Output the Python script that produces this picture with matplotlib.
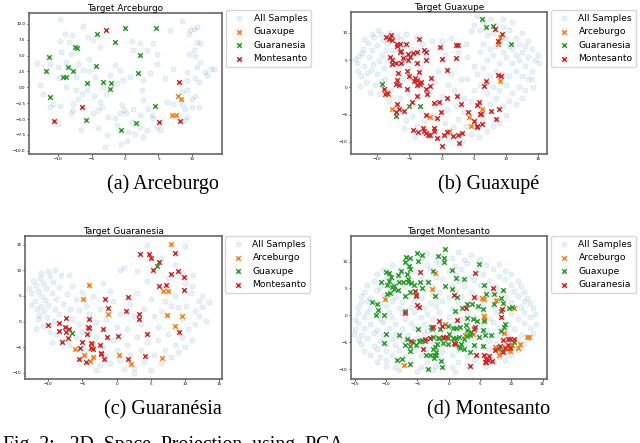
import numpy as np
import matplotlib.pyplot as plt

plt.rcParams['font.family'] = 'DejaVu Sans'

W, H = 640, 443

# ---------------- data: 2D PCA coordinates ----------------

# (a) Target Arceburgo
all_a = [(-9.75, 10.7), (-6.25, 9.6), (-8.9, 8.4), (-7.85, 8.3), (-5.5, 7.9), (-9.75, 7.3),
         (-8.35, 7.1), (-4.75, 7.5), (1.0, 7.3), (2.25, 6.9), (-9.6, 5.5), (-8.0, 5.3),
         (-5.45, 4.5), (-3.7, 6.3), (-13.1, 3.8), (-11.25, 3.7), (-10.0, 3.2), (-8.75, 4.0),
         (-7.1, 3.7), (-6.35, 2.7), (-5.35, 2.5), (-7.25, 1.6), (-9.85, 1.5), (-12.75, 0.3),
         (-12.25, -1.0), (-11.25, -3.1), (-10.75, -2.7), (-9.65, -3.0), (-8.0, -4.1),
         (-7.75, -2.6), (-7.1, -1.8), (-7.35, -0.5), (-8.75, 0.05), (-6.5, -1.0), (-5.65, -0.5),
         (-4.6, -1.4), (-3.75, -2.3), (-3.5, -3.1), (-2.85, -1.0), (-4.0, -3.6), (-2.5, -4.7),
         (-1.5, -4.9), (-0.75, -4.1), (-0.5, -2.8), (-0.15, -3.6), (0.15, -4.1), (1.15, -3.4),
         (2.25, -4.4), (2.75, -2.0), (3.5, -3.4), (4.0, -4.4), (4.25, -4.9), (1.0, -5.5),
         (0.65, -7.0), (0.25, -8.4), (-0.65, -8.9), (-3.0, -9.4), (-2.75, -7.5), (-4.1, -6.4),
         (-6.6, -6.7), (-1.25, -6.0), (1.5, -7.3), (2.75, -7.8), (2.75, 1.2), (2.5, -0.5),
         (3.75, 2.2), (4.75, 3.6), (6.0, 1.5), (6.25, -2.3), (7.25, -2.6), (8.5, -2.6),
         (9.0, -3.4), (10.0, -1.9), (10.5, -1.3), (9.25, -0.5), (8.5, -0.7), (9.25, 1.1),
         (10.5, 1.4), (11.0, 0.8), (9.25, 2.4), (10.75, 3.2), (12.0, 2.4), (12.25, 1.9),
         (13.25, 2.9), (12.85, 2.9), (11.25, 4.0), (10.5, 5.0), (9.5, 5.3), (10.25, 5.8),
         (11.25, 6.9), (10.75, 7.1), (10.75, 9.5), (10.25, 9.2), (9.5, 8.4), (8.5, 10.5),
         (6.75, 9.1), (9.75, 9.0), (7.25, 2.9), (4.25, 6.9), (4.75, 5.3), (3.25, 5.8),
         (1.25, 5.8), (-1.5, 3.5), (-0.75, 2.7), (-2.25, 1.9), (-1.25, 0.6), (-0.25, 1.1),
         (0.75, 1.6), (-4.5, 1.6), (-3.25, 0.05), (-4.75, -4.1), (-7.75, -3.6), (-10.0, -5.8),
         (5.25, -6.8), (4.75, -6.2), (2.25, -6.2), (3.25, -6.8), (9.25, -4.7), (9.0, -5.2),
         (10.0, -3.1), (11.0, -3.1)]
a_guaxupe = [(7.85, -1.4), (8.35, -1.9), (7.1, -4.4), (7.65, -4.3)]
a_guaranesia = [(-4.25, 8.4), (0.0, 9.3), (4.6, 9.3), (-1.5, 7.1), (-7.5, 6.4), (-7.15, 6.2),
                (-11.4, 4.7), (2.25, 5.1), (-8.5, 3.25), (-4.3, 3.35), (-11.75, 2.55), (-7.7, 2.6),
                (-9.3, 1.7), (-8.8, 1.7), (1.95, 2.2), (-5.65, 0.7), (-3.25, 0.85), (-2.05, 0.75),
                (-2.2, -0.25), (-11.25, -1.6), (4.5, -3.0), (-5.9, -5.2), (1.65, -5.55), (-0.65, -6.75)]
a_montesanto = [(-2.85, 9.0), (8.0, 0.85), (-6.4, -3.15), (-10.65, -5.3), (5.1, -5.5), (8.2, -5.25)]

# (b) Target Guaxupe
all_b = [(-13.2, 4.5), (-13, 3), (-12.8, 5.8), (-12.5, 2), (-12.3, 7), (-12, 4), (-11.8, 1),
         (-11.5, 8.2), (-11.3, 5.5), (-11, 3.2), (-10.8, 6.8), (-10.5, 9.3), (-10.3, 0.5),
         (-10, 2.5), (-10, 7.8), (-9.8, 4.8), (-9.5, 9.8), (-9.3, 6), (-9, 3.5), (-8.8, 1.5),
         (-8.5, 8.2), (-8.3, 5), (-8, 10), (-7.8, -0.5), (-7.5, 6.8), (-7.3, 2.8), (-7, 9.3),
         (-6.8, 3.8), (-6.5, -2), (-6.3, 8.8), (-6, 1.5), (-5.8, 5.8), (-5.5, 9.8), (-5.3, -1),
         (-5, 3.5), (-4.8, 7), (-4.5, -3), (-4.3, 4.5), (-4, 9.2), (-3.8, 0.5), (-3.5, -1.5),
         (-3.3, 3.8), (-3, 8), (-12.7, 0.2), (-11.2, -1), (-9.7, -1.2), (-8.2, -2.5), (-13.5, 5.2),
         (-12.1, 8.9), (-10.9, 9.8), (-9.9, 10.5), (-9.1, 8.6), (-8.7, 6.9), (-7.9, 4.1),
         (-11.6, 2.6), (-10.6, 4.2), (-12.4, 6.3), (-9.4, 1.2), (-7.2, -3.5), (-6.2, -4.5),
         (-5.6, -6), (-4.6, -5.2), (-3.9, -7), (-2.8, -6), (-2.2, -8), (-1.5, -5), (-0.8, -7.8),
         (-0.2, -9.2), (0.5, -6.5), (1.2, -9.5), (1.8, -7.2), (2.5, -5.8), (3.2, -9.8), (3.8, -7),
         (4.5, -8.5), (5.2, -6), (5.8, -9), (-5.8, -7.5), (-4.2, -9), (-3.2, -4.2), (-1, -3.5),
         (0.8, -4.2), (2.2, -3.5), (3.5, -4.5), (-2, -1), (-1, 1), (0, -1.5), (1, 0.5), (2, -0.5),
         (-0.5, 3), (1.5, 2.5), (3, 1.5), (-2.5, 5.5), (0.5, 6), (2.5, 6.5), (-1.5, 8.5), (0, 8.5),
         (1.5, 9), (3.8, 8), (4.5, 10.3), (5, 11.5), (5.5, 13), (6, 10.5), (6.5, 12), (7, 9.5),
         (7.5, 12.5), (8, 10), (8.5, 11.5), (9, 8), (9.5, 11), (10, 9), (10.5, 10.5), (11, 7),
         (11.5, 9), (12, 8), (12.5, 6.5), (13, 7.5), (13.5, 5.5), (14, 7), (14.5, 5), (15.2, 4.5),
         (14, 3), (13, 4), (12, 5), (11, 4.5), (10, 5.5), (9, 4.5), (8, 6), (7, 5), (6, 6.5),
         (5, 4), (4, 5.5), (5.5, 2.5), (6.5, 3.5), (7.5, 2), (8.5, 3), (9.5, 2.5), (10.5, 2),
         (11.5, 3), (12.5, 2), (13.5, 1.5), (14.2, 0), (13, -0.5), (12, 0), (11, -1), (10, 0.5),
         (9, -0.5), (8, 0), (7, -1), (6, 0.5), (5, -0.5), (4, 1.5), (12.5, -2), (11.5, -3),
         (10.5, -2.5), (9.5, -3.5), (8.5, -2), (7.5, -3), (6.5, -4.5), (5.5, -3.5), (4.5, -2.5),
         (3.5, -2), (10, -5), (9, -6.5), (8, -7), (7, -8), (6.5, -6), (11.5, 6), (10.5, 7.5),
         (9.5, 6.5), (8.5, 7.5), (7.5, 7), (6.5, 8), (12.5, 10), (11, 12), (9.5, 12.5),
         (13.5, 8.5), (15, 6), (14, 1.5)]
b_arceburgo = [(9.1, 9.2), (8.85, 8.0), (9.1, 1.2), (-8.3, -1.15), (-7.7, -3.95), (-1.75, -5.4),
               (4.3, -5.5), (4.6, -7.05), (6.35, -3.95), (1.2, -8.0)]
b_guaranesia = [(6.3, 12.6), (6.9, 11.1), (8.0, 11.2), (10.8, 7.85), (-9.2, 0.7), (-5.1, -3.4),
                (-3.4, -3.4), (-7.15, -5.2)]
b_montesanto = [(-8.65, 9.2), (-7.8, 9.5), (-7.65, 8.75), (-8.2, 8.8), (-3.5, 8.9), (-7.0, 8.0),
                (-6.4, 8.0), (-5.5, 7.85), (-6.95, 7.5), (-6.35, 6.6), (-6.45, 6.4), (-5.3, 6.2),
                (-3.9, 6.5), (-4.5, 6.3), (-2.8, 6.9), (-2.5, 6.45), (-0.25, 7.4), (2.3, 7.7),
                (2.6, 7.8), (-8.1, 5.6), (-7.7, 5.0), (-6.05, 5.3), (-4.85, 5.5), (-5.2, 5.1),
                (-2.4, 5.0), (0.1, 5.2), (2.3, 5.4), (-7.75, 4.25), (-7.15, 4.4), (-6.35, 4.4),
                (-3.85, 4.5), (0.8, 3.15), (-5.45, 3.0), (-6.8, 2.6), (-3.5, 2.75), (-5.1, 2.05),
                (-4.2, 1.75), (-3.85, 1.3), (-4.35, 1.15), (-6.9, 1.35), (-3.2, 1.05), (-1.6, 1.8),
                (-7.05, 0.55), (-6.6, 0.35), (-3.85, 0.35), (-3.3, 0.55), (-1.75, 0.25), (-5.35, -0.25),
                (-2.4, -0.35), (-9.0, -0.35), (-8.85, -1.15), (-8.45, -0.95), (-2.2, -1.3), (-3.85, -1.6),
                (-4.65, -2.75), (-6.9, -3.05), (-6.6, -3.9), (-1.15, -2.8), (-0.4, -2.75), (0.85, -2.0),
                (2.45, -1.65), (3.05, -3.1), (5.8, -2.6), (5.45, -3.3), (6.6, 0.25), (6.95, 1.2),
                (8.75, 2.2), (9.25, 2.05), (8.3, 10.6), (9.4, 9.85), (8.75, 8.5), (-7.1, -4.5),
                (-5.8, -4.4), (-2.45, -5.0), (-0.65, -5.65), (-0.15, -4.5), (4.15, -4.6), (5.0, -6.1),
                (5.55, -7.0), (5.55, -7.2), (6.35, -6.75), (5.9, -4.8), (6.2, -4.8), (7.7, -4.25),
                (8.45, -5.8), (8.95, -4.0), (-4.4, -7.85), (-3.75, -8.15), (-2.95, -7.35), (-2.75, -7.95),
                (-2.45, -8.4), (-2.05, -8.7), (-1.75, -8.7), (-1.15, -7.5), (-1.15, -7.95), (-0.75, -9.25),
                (0.3, -8.7), (0.9, -8.15), (1.85, -8.9), (2.6, -8.8), (3.25, -8.4), (2.7, -10.1),
                (0.1, -10.65)]

# (c) Target Guaranesia
all_c = [(-12.2, 8), (-11.8, 7.2), (-11.5, 6), (-11.2, 8.5), (-11, 5), (-10.8, 7.5), (-10.5, 4.2),
         (-10.3, 6.5), (-10, 3.3), (-9.8, 8.8), (-9.5, 5.5), (-9.3, 7.8), (-9, 2.5), (-8.8, 4.5),
         (-8.5, 6.8), (-8.2, 9), (-12, 4), (-11.6, 2.5), (-11, 3), (-10.6, 2), (-12.5, 5.5),
         (-12.8, 6.5), (-11.4, 1.2), (-10.2, 0.8), (-9.2, 0.2), (-8.5, 1.5), (-7.8, 3.5), (-7.3, 5.3),
         (-6.8, 2.5), (-7, 9), (-6.5, 7), (-6, 4.5), (-5.5, 2.2), (-11.8, -1.5), (-10.8, -0.8),
         (-9.8, -2), (-8.8, -2.5), (-9.5, -4), (-8, -3.8), (-7, -4.5), (-6, -3), (-5, -2),
         (-4.5, -5.5), (-3.5, -7), (-3, -3), (-2.5, -8.5), (-2, -5), (-1.5, -6.5), (-1, -8),
         (-0.5, -3.5), (0, -5.5), (0.5, -7.5), (1, -9.2), (1.5, -4.5), (2, -6.5), (2.5, -9),
         (3, -3), (3.5, -5.5), (4, -7.8), (4.5, -4), (5, -9.5), (5.5, -6.5), (6, -3.5), (6.5, -8),
         (7, -5.5), (7.5, -2.5), (8, -7), (8.5, -4.5), (9, -6), (9.5, -3), (10, -5), (10.5, -1.5),
         (11, -3.5), (11.5, -0.5), (12, 1), (12.5, 2.8), (13, 0.2), (13.5, 3.8), (12, 4), (11.5, 2),
         (10.8, 5.5), (11.2, 9), (10, 7.5), (10.2, 3), (9.5, 0.5), (9, 2.8), (8.5, 5), (8, 3),
         (7.5, 8.5), (7, 4), (6.5, 2), (6, -1), (5.5, 1), (5, 4.5), (4.5, 8), (4, 2.5), (3.5, -0.5),
         (3, 5.5), (2.5, 1), (2, 3.5), (1.5, -1.5), (1, 10.5), (0.5, 1.5), (0, -1), (-0.5, 4),
         (-1, 6), (-1.5, 0.5), (-2, 7.5), (-2.5, 2.5), (-3, 0), (-3.5, 5), (-4, 1.5), (-4.5, 3),
         (-5, 5.8), (-5.5, -0.5), (-6.5, 0.5), (-7.5, -1), (4.4, 14.9), (10, 14.8), (6.5, 12.5),
         (8.5, 11), (9.5, 9.5), (12.5, 5), (11, 7), (3, 9.8), (-11.5, 0.5), (-12.5, 3.2),
         (-11, 9.5), (-10, 9.8), (-9, 10), (-3, -9.5), (2.5, -10), (0.5, 10)]
c_arceburgo = [(7.95, 15.1), (-4.1, 7.1), (-4.95, 4.4), (-1.2, 1.5), (6.8, 5.9), (7.45, 6.0),
               (7.3, 1.3), (9.5, 1.0), (8.5, -0.8), (-6.05, -5.4), (-4.75, -6.6), (-3.5, -6.85),
               (-3.9, -7.65), (0.4, -6.6), (2.05, -8.2), (6.65, -7.1), (-3.65, -4.35)]
c_guaxupe = [(5.95, 10.9), (-6.55, -2.2)]
c_montesanto = [(3.35, 13.2), (4.7, 13.2), (5.05, 12.4), (8.5, 13.3), (6.15, 11.6), (5.25, 10.0),
                (8.9, 9.8), (8.0, 9.3), (9.8, 8.7), (6.2, 7.0), (7.2, 7.05), (9.85, 6.1), (1.7, 4.85),
                (-1.7, 4.35), (-1.3, 2.65), (1.4, 2.15), (3.2, 1.55), (3.2, 0.5), (-7.35, 0.7),
                (-4.1, 0.5), (-10.0, -0.6), (-8.5, -0.25), (-8.4, -1.75), (-7.55, -1.15), (-7.4, -2.0),
                (-6.95, -1.5), (-4.2, -1.1), (-4.1, -1.3), (-4.3, -2.35), (-1.95, -1.35), (-1.35, -3.05),
                (0.25, -2.85), (4.4, -2.5), (9.15, -1.95), (-7.15, -3.25), (-8.0, -3.9), (-5.05, -4.0),
                (-3.7, -4.1), (-5.35, -5.2), (-3.7, -5.1), (-3.45, -5.35), (-2.5, -4.65), (-2.3, -6.15),
                (-2.3, -6.4), (-1.8, -7.25), (-5.55, -7.25), (-4.55, -7.95), (1.7, -7.25), (4.15, -6.8)]

# (d) Target Montesanto
all_d = [(-3.5, 11.6), (-1, 11.3), (1.5, 11.8), (3.5, 11.2), (-7, 10.4), (-4.5, 10.7), (-2, 10.3),
         (0.5, 10.6), (2.5, 10.2), (5, 10.5), (-9, 9.4), (-6.5, 9.7), (-3.5, 9.3), (-1.5, 9.6),
         (1, 9.2), (3, 9.7), (6, 9.3), (8, 9.6), (-10.5, 8.4), (-8, 8.7), (-5.5, 8.3), (-3, 8.6),
         (0, 8.2), (2, 8.7), (4.5, 8.4), (7, 8.6), (9, 8.2), (-11.5, 7.6), (-9.5, 7.3), (-7, 7.7),
         (-4.5, 7.4), (-2, 7.2), (1, 7.6), (3.5, 7.3), (5.5, 7.7), (8, 7.4), (10, 7.6),
         (-12, 6.4), (-10, 6.7), (-8.5, 6.3), (-6, 6.6), (-3.5, 6.4), (-1, 6.7), (1.5, 6.3),
         (4, 6.6), (6.5, 6.4), (9, 6.7), (11, 6.3), (-13, 5.6), (-11, 5.3), (-9, 5.7), (-7, 5.4),
         (-5, 5.6), (-2.5, 5.3), (0.5, 5.7), (2.5, 5.4), (5, 5.6), (7.5, 5.3), (10, 5.7),
         (11.5, 5.4), (-13.5, 4.4), (-11.5, 4.7), (-9.5, 4.3), (-8, 4.6), (-6, 4.4), (-4, 4.7),
         (-1.5, 4.3), (1, 4.6), (3.5, 4.4), (6, 4.7), (8, 4.3), (10.5, 4.6), (12, 4.4),
         (-14, 3.6), (-12.5, 3.3), (-10.5, 3.7), (-8.5, 3.4), (-6.5, 3.6), (-4.5, 3.3),
         (-2.5, 3.7), (0, 3.4), (2, 3.6), (4.5, 3.3), (6.5, 3.7), (9, 3.4), (11, 3.6), (12.5, 3.3),
         (-14, 2.4), (-13, 2.7), (-11, 2.3), (-9, 2.6), (-7.5, 2.4), (-5.5, 2.7), (-3, 2.3),
         (-1, 2.6), (1.5, 2.4), (3.5, 2.7), (5.5, 2.3), (7.5, 2.6), (10, 2.4), (12, 2.7), (13, 2.3),
         (-14.5, 1.6), (-12.5, 1.3), (-10, 1.7), (-8, 1.4), (-6, 1.6), (-4, 1.3), (-2, 1.7),
         (0.5, 1.4), (2.5, 1.6), (4.5, 1.3), (7, 1.7), (9, 1.4), (11.5, 1.6), (13.5, 1.3),
         (-14.5, 0.4), (-13, 0.7), (-11.5, 0.3), (-9.5, 0.6), (-7.5, 0.4), (-5.5, 0.7), (-3.5, 0.3),
         (-1.5, 0.6), (1, 0.4), (3, 0.7), (5.5, 0.3), (7.5, 0.6), (10, 0.4), (12, 0.7), (13.8, 0.3),
         (-15, -0.6), (-13.5, -0.3), (-11, -0.7), (-9, -0.4), (-7, -0.6), (-4.5, -0.3), (-2.5, -0.7),
         (0, -0.4), (2, -0.6), (4, -0.3), (6.5, -0.7), (8.5, -0.4), (11, -0.6), (13, -0.3),
         (-14.5, -1.4), (-12.5, -1.7), (-10.5, -1.3), (-8.5, -1.6), (-6, -1.4), (-4, -1.7),
         (-1.5, -1.3), (0.5, -1.6), (3, -1.4), (5, -1.7), (7, -1.3), (9.5, -1.6), (12, -1.4),
         (14, -1.7), (-15, -2.6), (-13.5, -2.3), (-11.5, -2.7), (-9.5, -2.4), (-7.5, -2.6),
         (-5.5, -2.3), (-3.5, -2.7), (-1, -2.4), (1.5, -2.6), (3.5, -2.3), (6, -2.7), (8, -2.4),
         (10.5, -2.6), (13, -2.3), (-15.2, -3.4), (-14, -3.7), (-12, -3.3), (-10.5, -3.6),
         (-8.5, -3.4), (-6.5, -3.7), (-4, -3.3), (-2, -3.6), (0.5, -3.4), (2.5, -3.7), (5, -3.3),
         (7.5, -3.6), (9.5, -3.4), (11.5, -3.7), (13.5, -3.3), (-14.5, -4.6), (-13, -4.3),
         (-11, -4.7), (-9, -4.4), (-7.5, -4.6), (-5, -4.3), (-3, -4.7), (-0.5, -4.4), (1.5, -4.6),
         (4, -4.3), (6.5, -4.7), (8.5, -4.4), (11, -4.6), (13, -4.3), (-14, -5.4), (-12, -5.7),
         (-10, -5.3), (-8.5, -5.6), (-6.5, -5.4), (-4.5, -5.7), (-2, -5.3), (0, -5.6), (3, -5.4),
         (5.5, -5.7), (7.5, -5.3), (10, -5.6), (12, -5.4), (-13.5, -6.6), (-11.5, -6.3),
         (-10, -6.7), (-8, -6.4), (-5.5, -6.6), (-3.5, -6.3), (-1, -6.7), (1.5, -6.4), (4, -6.6),
         (6.5, -6.3), (9, -6.7), (11, -6.4), (-12.5, -7.4), (-11, -7.7), (-9, -7.3), (-7, -7.6),
         (-4.5, -7.4), (-2.5, -7.7), (0.5, -7.3), (3, -7.6), (5, -7.4), (8, -7.7), (10, -7.3),
         (-11.5, -8.6), (-10, -8.3), (-8, -8.7), (-6, -8.4), (-3.5, -8.6), (-1.5, -8.3),
         (1.5, -8.7), (4, -8.4), (7, -8.6), (9, -8.3), (-10, -9.4), (-8.5, -9.7), (-6.5, -9.3),
         (-4.5, -9.6), (-2, -9.4), (0.5, -9.7), (3, -9.3), (6, -9.5), (-8, -10.2), (-5, -10.4),
         (-2.5, -10.1), (1, -10.5)]
d_arceburgo = [(-2.15, 7.95), (-2.65, 4.9), (-10.25, 3.0), (5.35, 3.25), (5.65, 3.0), (7.6, 2.85),
               (10.4, 1.3), (5.6, -0.05), (5.6, -0.7), (-0.55, -1.55), (2.55, -3.75), (8.8, -3.35),
               (12.55, -4.0), (12.9, -4.05), (11.45, -5.35), (11.1, -6.1), (7.4, -5.9), (7.75, -6.3),
               (8.4, -6.7), (8.0, -7.35), (10.15, -5.5), (9.75, -5.8), (9.75, -6.7), (9.0, -5.85),
               (-7.1, -9.3), (3.85, -3.5)]
d_guaxupe = [(-0.65, 12.3), (-5.0, 11.6), (-4.3, 11.3), (-1.65, 11.05), (-6.75, 10.85), (-6.2, 10.7),
             (-0.75, 10.7), (-7.0, 9.95), (-4.95, 10.1), (-0.75, 10.0), (4.9, 9.45), (-6.35, 9.15),
             (-6.15, 8.65), (-9.95, 8.1), (-9.6, 7.95), (-7.6, 8.25), (-2.45, 8.15), (0.55, 8.45),
             (-6.6, 7.6), (-8.15, 7.45), (-9.15, 7.05), (1.15, 6.85), (2.45, 6.75), (-6.45, 6.75),
             (-10.75, 6.25), (-9.6, 6.3), (-7.95, 6.15), (-7.3, 6.15), (-6.55, 6.15), (-5.95, 6.05),
             (-4.6, 6.25), (-3.35, 6.15), (-9.9, 5.6), (-9.1, 5.25), (-8.8, 5.45), (-8.7, 4.95),
             (-8.15, 4.75), (-5.55, 5.55), (-4.25, 5.1), (-0.65, 5.45), (0.5, 4.8), (5.65, 5.55),
             (8.75, 4.75), (-6.25, 4.3), (-9.35, 4.15), (-9.85, 4.0), (-6.95, 3.6), (-5.15, 3.65),
             (-2.15, 3.6), (1.4, 3.4), (2.95, 2.1), (3.75, 2.05), (5.95, 4.0), (7.3, 3.9), (8.35, 3.25),
             (8.6, 2.2), (-12.25, 2.4), (-11.45, 2.05), (-11.25, 1.0), (-11.55, 0.0), (-10.35, 0.0),
             (-7.0, 0.8), (1.05, 0.8), (2.1, 1.4), (4.65, 1.75), (5.45, 1.25), (7.2, 2.15), (9.65, 1.4),
             (10.15, 1.5), (8.3, 0.85), (3.0, -0.45), (3.85, -0.6), (4.55, -1.0), (5.65, -1.0),
             (8.95, -1.65), (8.9, -2.1), (-4.85, -2.55), (-2.75, -2.1), (-2.7, -2.6), (-1.45, -2.5),
             (-0.1, -2.0), (0.7, -2.3), (1.15, -2.4), (1.8, -2.2), (2.75, -1.85), (2.95, -2.8),
             (3.6, -3.1), (5.45, -2.65), (6.75, -3.75), (8.3, -3.0), (-10.0, -3.5), (-10.4, -5.2),
             (-7.95, -3.7), (-6.6, -4.4), (-4.75, -4.7), (-4.55, -4.7), (-4.2, -4.65), (-3.75, -4.7),
             (-3.05, -4.2), (-2.45, -3.95), (-1.75, -4.25), (-1.5, -4.15), (-0.9, -5.2), (-0.8, -4.25),
             (-0.05, -4.3), (0.75, -4.25), (0.85, -4.45), (1.15, -4.15), (1.65, -4.05), (2.5, -4.4),
             (3.0, -3.9), (4.8, -3.95), (5.75, -3.7), (-5.7, -4.95), (-7.05, -5.5), (-6.1, -5.7),
             (-5.15, -5.5), (-1.9, -5.35), (-0.1, -5.35), (1.6, -5.75), (1.75, -6.0), (2.0, -5.3),
             (5.4, -5.8), (8.1, -6.15), (10.45, -4.9), (-2.45, -6.35), (-2.25, -5.85), (-2.1, -6.75),
             (-6.15, -6.6), (-3.65, -7.45), (-2.95, -7.45), (-2.3, -7.35), (-2.1, -7.35), (-2.35, -7.9),
             (-1.15, -8.45), (-1.0, -9.55), (-3.35, -9.95), (-8.25, -8.35), (-7.5, -8.15), (-6.1, -9.15),
             (3.35, -6.9), (2.45, -6.25), (4.0, -5.6), (3.45, -3.75), (0.05, -3.45)]
d_guaranesia = [(-4.65, 8.0), (4.25, 7.8), (-5.4, 4.5), (-5.25, 3.75), (0.8, 3.85), (4.1, 3.45),
                (7.0, 5.0), (-5.05, 1.95), (-4.7, 1.5), (-6.95, 0.35), (2.75, 1.3), (8.55, 1.25),
                (8.3, -0.25), (-1.6, -1.1), (1.3, -0.8), (-2.55, -2.2), (-1.05, -1.9), (4.25, -2.2),
                (4.05, -2.55), (-0.95, -4.0), (-0.5, -4.05), (-3.85, -4.5), (-2.95, -4.2), (0.9, -5.2),
                (1.05, -5.35), (-5.95, -4.7), (-4.1, -6.35), (4.35, -7.35), (3.45, -9.5), (5.7, -7.45),
                (5.95, -8.1), (6.0, -8.6), (6.45, -7.65), (6.3, -8.25), (6.95, -8.45), (5.75, -8.75),
                (7.45, -6.4), (8.25, -5.8), (8.6, -6.9), (9.05, -6.1), (9.45, -4.45), (9.75, -4.4),
                (9.85, -6.1), (9.5, -5.6), (10.45, -4.4), (8.6, -4.6)]

panels = [
    dict(title='Target Arceburgo', bg=all_a, caption='(a) Arceburgo',
         series=[('Guaxupe', a_guaxupe), ('Guaranesia', a_guaranesia), ('Montesanto', a_montesanto)],
         xlim=(-14.35, 14.5), ylim=(-10.5, 11.7), xticks=[-10, -5, 0, 5, 10],
         yticks=[-10, -7.5, -5, -2.5, 0, 2.5, 5, 7.5, 10]),
    dict(title='Target Guaxupe', bg=all_b, caption='(b) Guaxupé',
         series=[('Arceburgo', b_arceburgo), ('Guaranesia', b_guaranesia), ('Montesanto', b_montesanto)],
         xlim=(-14.1, 16.4), ylim=(-12.2, 13.8), xticks=[-10, -5, 0, 5, 10, 15],
         yticks=[-10, -5, 0, 5, 10]),
    dict(title='Target Guaranesia', bg=all_c, caption='(c) Guaranésia',
         series=[('Arceburgo', c_arceburgo), ('Guaxupe', c_guaxupe), ('Montesanto', c_montesanto)],
         xlim=(-13.4, 15.4), ylim=(-11.2, 16.7), xticks=[-10, -5, 0, 5, 10, 15],
         yticks=[-10, -5, 0, 5, 10, 15]),
    dict(title='Target Montesanto', bg=all_d, caption='(d) Montesanto',
         series=[('Arceburgo', d_arceburgo), ('Guaxupe', d_guaxupe), ('Guaranesia', d_guaranesia)],
         xlim=(-15.6, 15.7), ylim=(-11.85, 14.75), xticks=[-15, -10, -5, 0, 5, 10, 15],
         yticks=[-10, -5, 0, 5, 10]),
]

# layout in pixels: axes (left, top, right, bottom), legend top-left corner, caption centre/baseline
axes_px = [(29, 13, 222, 154), (351, 12, 547, 154), (25, 236, 222, 379), (351, 236, 547, 379)]
legend_px = [(226, 10), (551, 10), (225, 236), (551, 236)]
caption_px = [(163, 189), (489, 189), (163, 414), (489, 414)]
colors = ['#ff7f0e', '#2ca02c', '#d62728']

fig = plt.figure(figsize=(6.4, 4.43), dpi=100)

for p, (l, t, r, b), (lx, ly), (cx, cy) in zip(panels, axes_px, legend_px, caption_px):
    ax = fig.add_axes([l / W, 1 - b / H, (r - l) / W, (b - t) / H])
    bx, by = np.array(p['bg']).T
    ax.scatter(bx, by, s=14, color='#1f77b4', alpha=0.1, linewidths=0.6, label='All Samples')
    for (name, pts), c in zip(p['series'], colors):
        x, y = np.array(pts).T
        ax.scatter(x, y, s=11, marker='x', color=c, linewidths=1.1, label=name)
    ax.set_xlim(*p['xlim'])
    ax.set_ylim(*p['ylim'])
    ax.set_xticks(p['xticks'])
    ax.set_yticks(p['yticks'])
    ax.tick_params(labelsize=3, length=1.5, width=0.5, pad=1)
    for s in ax.spines.values():
        s.set_color('#666666')
        s.set_linewidth(1.2)
    ax.set_title(p['title'], fontsize=6.4, pad=1.5)
    ax.legend(loc='upper left', bbox_to_anchor=(lx / W, 1 - ly / H),
              bbox_transform=fig.transFigure, borderaxespad=0, fontsize=6.6,
              handletextpad=0.6, borderpad=0.4)
    fig.text(cx / W, 1 - cy / H, p['caption'], ha='center', va='baseline',
             family='Liberation Serif', fontsize=14.5)

# figure caption, cut by the bottom edge as in the source page
fig.text(3 / W, 1 - 450 / H, 'Fig. 2:   2D  Space  Projection  using  PCA.', ha='left',
         va='baseline', family='Liberation Serif', fontsize=14.2)

fig.savefig('out.png', dpi=100)
